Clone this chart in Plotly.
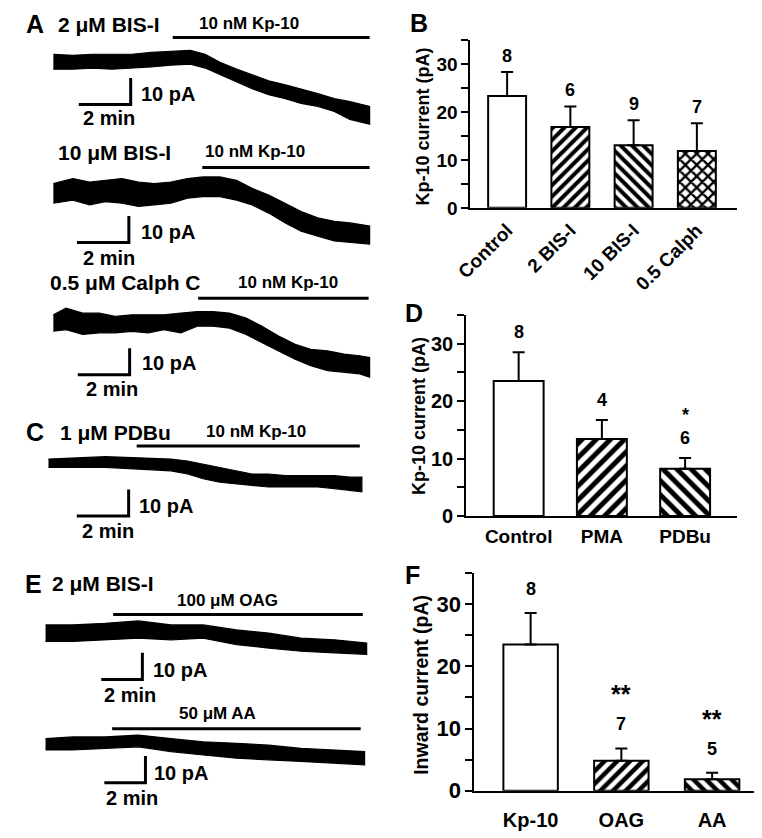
import plotly.graph_objects as go

W, H = 762, 838
FONT = "Liberation Sans, Arial, sans-serif"

# ---------------- bar-chart data ----------------
b_cats = ["Control", "2 BIS-I", "10 BIS-I", "0.5 Calph"]
b_mean = [23.4, 16.9, 13.1, 11.9]
b_sem = [5.0, 4.3, 5.2, 5.8]
b_n = ["8", "6", "9", "7"]
b_pat = ["", "/", "\\", "x"]

d_cats = ["Control", "PMA", "PDBu"]
d_mean = [23.5, 13.4, 8.2]
d_sem = [5.0, 3.3, 1.9]
d_n = ["8", "4", "6"]
d_sig = ["", "", "*"]
d_pat = ["", "/", "\\"]

f_cats = ["Kp-10", "OAG", "AA"]
f_mean = [23.5, 4.8, 1.85]
f_sem = [5.1, 2.0, 1.05]
f_n = ["8", "7", "5"]
f_sig = ["", "**", "**"]
f_pat = ["", "/", "\\"]

y_ticks = [0, 5, 10, 15, 20, 25, 30, 35]
y_ticktext = ["0", "", "10", "", "20", "", "30", ""]

# ---------------- current traces (time in min, current in pA; envelope) ----------------
a1_t = [0, 0.75, 1.5, 2.26, 3.02, 3.77, 4.53, 5.28, 5.85, 6.42, 7.06, 7.66, 8.30, 8.94, 9.55, 10.19, 10.83, 11.43, 12.19]
a1_hi = [2.6, 2.2, 2.6, 2.6, 2.6, 3.3, 3.7, 4.1, 2.6, -0.4, -3.0, -5.2, -7.4, -8.9, -10.4, -12.2, -14.1, -15.2, -17.0]
a1_lo = [-3.0, -3.0, -2.6, -3.0, -2.6, -2.2, -1.5, -1.1, -2.6, -5.2, -7.8, -10.4, -12.6, -14.1, -15.9, -17.0, -18.9, -21.9, -23.7]

a2_t = [0, 0.75, 1.40, 2.0, 2.64, 3.28, 3.89, 4.53, 5.17, 5.77, 6.42, 7.06, 7.66, 8.30, 8.94, 9.55, 10.19, 10.83, 11.43, 12.19]
a2_hi = [3.2, 5.1, 3.8, 4.4, 5.1, 3.8, 3.2, 3.8, 5.1, 5.7, 5.7, 4.4, 1.4, -1.1, -4.2, -7.3, -9.7, -11.0, -11.6, -12.8]
a2_lo = [-4.2, -3.0, -4.8, -3.6, -4.2, -5.4, -4.8, -4.2, -2.3, -1.7, -1.7, -3.0, -4.8, -7.9, -11.6, -14.7, -16.6, -18.4, -19.0, -19.6]

a3_t = [0, 0.49, 1.13, 1.77, 2.38, 3.02, 3.66, 4.26, 4.91, 5.55, 6.15, 6.79, 7.43, 8.04, 8.68, 9.32, 9.92, 10.57, 11.21, 11.81, 12.19]
a3_hi = [3.1, 5.6, 3.7, 3.7, 2.5, 3.1, 3.1, 3.1, 3.7, 4.3, 4.3, 3.7, 1.9, -1.2, -4.9, -8.0, -9.9, -10.5, -11.7, -12.3, -13.0]
a3_lo = [-3.1, -2.5, -4.3, -3.7, -3.7, -3.1, -3.7, -2.5, -3.7, -1.2, -1.2, -1.9, -4.3, -7.4, -10.5, -13.6, -16.0, -17.9, -18.5, -19.1, -20.4]

c_t = [0, 0.94, 2.19, 3.47, 4.72, 5.36, 5.96, 6.60, 7.25, 7.85, 8.49, 9.13, 9.74, 10.38, 11.02, 11.62, 12.08]
c_hi = [1.4, 1.9, 2.3, 1.9, 1.4, 0.7, -0.5, -1.7, -3.0, -4.2, -4.2, -4.8, -4.8, -4.8, -4.8, -5.4, -5.4]
c_lo = [-1.7, -1.7, -1.7, -2.3, -3.0, -4.2, -6.0, -7.3, -7.9, -8.5, -9.1, -9.1, -9.1, -9.1, -9.7, -10.3, -10.9]

e1_t = [0, 1.33, 2.90, 4.52, 6.10, 7.67, 9.29, 10.86, 12.43, 14.05, 15.62]
e1_hi = [3.1, 3.1, 3.7, 4.6, 3.1, 3.1, 1.2, 0.0, -1.9, -2.5, -3.7]
e1_lo = [-3.1, -3.1, -2.5, -1.9, -2.5, -1.9, -4.3, -5.6, -6.8, -7.4, -8.0]

e2_t = [0, 1.33, 2.90, 4.52, 6.10, 7.67, 9.29, 10.86, 12.43, 14.05, 15.52]
e2_hi = [2.2, 2.8, 2.8, 3.5, 2.2, 1.0, 0.4, -0.3, -1.5, -2.1, -2.7]
e2_lo = [-2.1, -2.1, -1.5, -0.9, -2.7, -4.0, -5.2, -5.8, -6.4, -7.0, -7.7]

# drug application periods (start min, end min)
drug_on = [(4.6, 12.19), (5.74, 12.19), (5.58, 12.15), (3.40, 12.0), (3.29, 15.43), (3.24, 15.33)]

# ---------------- layout helpers ----------------
def px_x(p):
    return p / W


def px_y(p):
    return 1 - p / H


fig = go.Figure()
layout = dict(width=W, height=H, margin=dict(l=0, r=0, t=0, b=0),
              paper_bgcolor="white", plot_bgcolor="white",
              font=dict(family=FONT, color="black"), showlegend=False)
annotations = []
shapes = []

# ---------------- bar panels ----------------
bar_panels = [
    # cats, mean, sem, n, sig, pattern, axis-id, x px span, y px span, xrange, tickangle,
    # tick font, category font, pattern size, n shift, sig shift, label standoff
    (b_cats, b_mean, b_sem, b_n, ["", "", "", ""], b_pat, "", (456, 728), (33, 203),
     [-0.58, 3.63], -45, 19, 19, 8, 16, 0, 2),
    (d_cats, d_mean, d_sem, d_n, d_sig, d_pat, "2", (451.7, 728), (311.7, 516),
     [-0.63, 2.62], 0, 20, 19, 10, 20, 43, 2),
    (f_cats, f_mean, f_sem, f_n, f_sig, f_pat, "3", (460, 752), (574, 795),
     [-0.62, 2.53], 0, 22, 20, 9, 24, 54, 10),
]

for (cats, mean, sem, ns, sig, pat, aid, xs, ys, xr, tang, tfs, cfs, psize, nshift, sshift,
     stand) in bar_panels:
    xa, ya = "x" + aid, "y" + aid
    fig.add_trace(go.Bar(
        x=cats, y=mean, xaxis=xa, yaxis=ya, width=0.6,
        marker=dict(color="white", line=dict(color="black", width=2),
                    pattern=dict(shape=pat, fgcolor="black", bgcolor="white", fgopacity=1,
                                 size=psize, solidity=0.5)),
        error_y=dict(type="data", symmetric=False, array=sem,
                     arrayminus=[0] * len(sem), color="black", thickness=2, width=6),
        hoverinfo="skip"))
    layout["xaxis" + aid] = dict(
        domain=[px_x(xs[0]), px_x(xs[1])], range=xr, anchor=ya,
        showline=True, linecolor="black", linewidth=2, showgrid=False, zeroline=False,
        ticks="outside", ticklen=stand, tickcolor="rgba(0,0,0,0)", tickangle=tang,
        tickfont=dict(size=cfs, color="black", family=FONT, weight="bold"))
    layout["yaxis" + aid] = dict(
        domain=[px_y(ys[1]), px_y(ys[0])], range=[0, 35], anchor=xa,
        showline=True, linecolor="black", linewidth=2, showgrid=False, zeroline=False,
        tickvals=y_ticks, ticktext=y_ticktext, ticks="outside", ticklen=7,
        tickwidth=2, tickcolor="black",
        tickfont=dict(size=tfs, color="black", family=FONT, weight="bold"))
    for c, m, s, n, sg in zip(cats, mean, sem, ns, sig):
        annotations.append(dict(x=c, y=m + s, xref=xa, yref=ya, text=n, showarrow=False,
                                yanchor="middle", yshift=nshift,
                                font=dict(size=18, family=FONT, weight="bold")))
        if sg:
            annotations.append(dict(x=c, y=m + s, xref=xa, yref=ya, text=sg, showarrow=False,
                                    yanchor="middle", yshift=sshift,
                                    font=dict(size=25 if len(sg) > 1 else 18, family=FONT,
                                              weight="bold")))

# y-axis titles
for txt, xp, yp, fs in [("Kp-10 current (pA)", 408, 120, 18),
                        ("Kp-10 current (pA)", 403, 415, 18),
                        ("Inward current (pA)", 406, 687, 19.5)]:
    annotations.append(dict(x=px_x(xp), y=px_y(yp), xref="paper", yref="paper", text=txt,
                            textangle=-90, showarrow=False, xanchor="center", yanchor="middle",
                            font=dict(size=fs, family=FONT, weight="bold")))

# ---------------- trace panels ----------------
# (t, hi, lo, x-origin px, baseline px, px/min, slab top px, slab bottom px,
#  scale-bar corner (min, pA), drug-bar level pA)
PX_PER_PA = 2.7
trace_panels = [
    (a1_t, a1_hi, a1_lo, 30, 54, 26.5, 0, 130, (2.98, -16.3), 8.9),
    (a2_t, a2_hi, a2_lo, 30, 187, 26.5, 130, 265, (2.91, -19.0), 9.3),
    (a3_t, a3_hi, a3_lo, 30, 320, 26.5, 265, 400, (2.94, -19.5), 9.3),
    (c_t, c_hi, c_lo, 25, 462, 26.5, 400, 560, (3.09, -20.0), 6.3),
    (e1_t, e1_hi, e1_lo, 22, 635, 21.0, 570, 710, (4.71, -17.4), 7.0),
    (e2_t, e2_hi, e2_lo, 22, 748, 21.0, 710, 838, (4.86, -14.4), 5.9),
]

for i, (t, hi, lo, x0, yb, sx, ytop, ybot, sb, drug_y) in enumerate(trace_panels):
    aid = str(i + 4)
    xa, ya = "x" + aid, "y" + aid
    fig.add_trace(go.Scatter(
        x=list(t) + list(t[::-1]), y=list(hi) + list(lo[::-1]),
        xaxis=xa, yaxis=ya, mode="lines", fill="toself", fillcolor="black",
        line=dict(color="black", width=1.2), hoverinfo="skip"))
    layout["xaxis" + aid] = dict(domain=[0, px_x(380)], range=[(0 - x0) / sx, (380 - x0) / sx],
                                 visible=False, anchor=ya)
    layout["yaxis" + aid] = dict(domain=[px_y(ybot), px_y(ytop)],
                                 range=[(yb - ybot) / PX_PER_PA, (yb - ytop) / PX_PER_PA],
                                 visible=False, anchor=xa)
    d0, d1 = drug_on[i]
    shapes.append(dict(type="line", xref=xa, yref=ya, x0=d0, x1=d1, y0=drug_y, y1=drug_y,
                       line=dict(color="black", width=3)))
    tc, yc = sb
    shapes.append(dict(type="path", xref=xa, yref=ya,
                       path=f"M {tc - 2},{yc} L {tc},{yc} L {tc},{yc + 10}",
                       line=dict(color="black", width=3)))

# ---------------- texts ----------------
panel_letters = [("A", 11, 16), ("B", 403, 15), ("C", 11, 431),
                 ("D", 398, 310), ("E", 10, 585), ("F", 397, 576)]
for txt, xp, yp in panel_letters:
    annotations.append(dict(x=px_x(xp), y=px_y(yp), xref="paper", yref="paper", text=txt,
                            showarrow=False, xanchor="center", yanchor="middle",
                            font=dict(size=25, family=FONT, weight="bold")))

labels = [
    ("2 μM BIS-I", 33, 17, 21, "left"),
    ("10 nM Kp-10", 230, 16, 17, "center"),
    ("10 pA", 117, 87, 20, "left"),
    ("2 min", 58, 112, 20, "left"),
    ("10 μM BIS-I", 33, 147, 21, "left"),
    ("10 nM Kp-10", 236, 146, 17, "center"),
    ("10 pA", 117, 228, 20, "left"),
    ("2 min", 58, 254, 20, "left"),
    ("0.5 μM Calph C", 25, 279, 21, "left"),
    ("10 nM Kp-10", 270, 279, 17, "center"),
    ("10 pA", 118, 361, 20, "left"),
    ("2 min", 61, 387, 20, "left"),
    ("1 μM PDBu", 35, 431, 21, "left"),
    ("10 nM Kp-10", 237, 430, 17, "center"),
    ("10 pA", 115, 506, 20, "left"),
    ("2 min", 57, 531, 20, "left"),
    ("2 μM BIS-I", 27, 585, 21, "left"),
    ("100 μM OAG", 208, 602, 17, "center"),
    ("10 pA", 130, 672, 20, "left"),
    ("2 min", 80, 698, 20, "left"),
    ("50 μM AA", 198, 717, 17, "center"),
    ("10 pA", 131, 777, 20, "left"),
    ("2 min", 82, 802, 20, "left"),
]
for txt, xp, yp, fs, anc in labels:
    annotations.append(dict(x=px_x(xp), y=px_y(yp), xref="paper", yref="paper", text=txt,
                            showarrow=False, xanchor=anc, yanchor="middle",
                            font=dict(size=fs, family=FONT, weight="bold")))

layout["annotations"] = annotations
layout["shapes"] = shapes
fig.update_layout(**layout)
fig.write_html("out.html")
